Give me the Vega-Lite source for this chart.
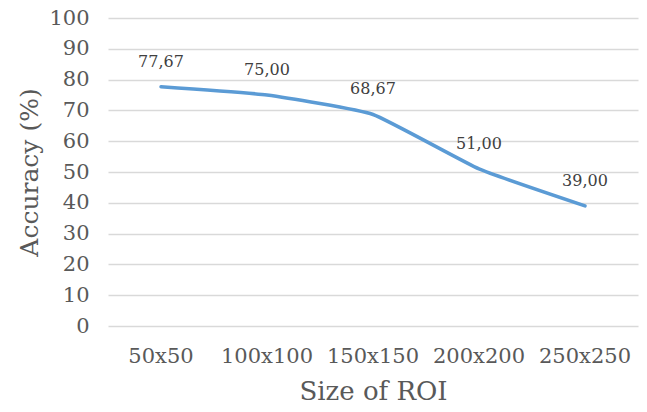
{
  "$schema": "https://vega.github.io/schema/vega-lite/v6.json",
  "autosize": "none",
  "padding": {"left": 108, "top": 18, "right": 9, "bottom": 86},
  "width": 530,
  "height": 308,
  "background": "white",
  "data": {"values": [
    {"roi": "50x50", "acc": 77.67},
    {"roi": "100x100", "acc": 75.00},
    {"roi": "150x150", "acc": 68.67},
    {"roi": "200x200", "acc": 51.00},
    {"roi": "250x250", "acc": 39.00}
  ]},
  "encoding": {
    "x": {"field": "roi", "type": "ordinal", "sort": null, "title": "Size of ROI",
      "scale": {"type": "band", "paddingInner": 0, "paddingOuter": 0},
      "axis": {"labelAngle": 0, "domain": false, "ticks": false, "labelPadding": 19, "labelFontSize": 21, "titleFontSize": 26, "titlePadding": 12, "labelColor": "#595959", "titleColor": "#595959", "titleFontWeight": "normal"}},
    "y": {"field": "acc", "type": "quantitative", "title": "Accuracy (%)",
      "scale": {"domain": [0, 100], "nice": false},
      "axis": {"values": [0,10,20,30,40,50,60,70,80,90,100], "domain": false, "ticks": false, "labelPadding": 19, "labelFontSize": 21, "titleFontSize": 25, "titlePadding": 6, "labelColor": "#595959", "titleColor": "#595959", "titleFontWeight": "normal", "gridColor": "#D9D9D9", "gridWidth": 1.3}}
  },
  "layer": [
    {"mark": {"type": "line", "color": "#5B9BD5", "strokeWidth": 3.5, "interpolate": "cardinal", "tension": 0.6, "strokeCap": "round"}},
    {"mark": {"type": "text", "dy": -25, "fontSize": 16, "color": "#404040"},
      "encoding": {"text": {"field": "acc", "type": "quantitative", "format": ".2f"}}}
  ],
  "config": {
    "font": "DejaVu Serif",
    "view": {"stroke": null},
    "locale": {"number": {"decimal": ",", "thousands": ".", "grouping": [3], "currency": ["", ""]}}
  }
}
